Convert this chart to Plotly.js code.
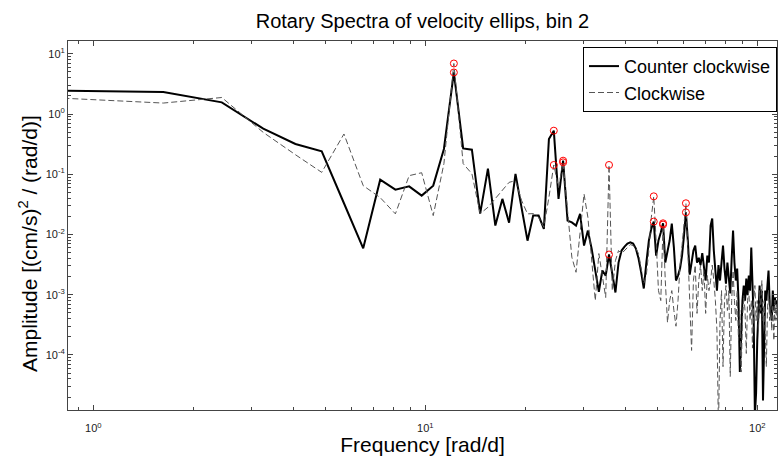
<!DOCTYPE html>
<html>
<head>
<meta charset="utf-8">
<script src="https://cdn.plot.ly/plotly-3.0.1.min.js"></script>
<style>
  html, body { margin: 0; padding: 0; background: #ffffff; }
  #chart { width: 779px; height: 456px; }
</style>
</head>
<body>
<div id="chart"></div>
<script>
// Frequencies [rad/d]
var freq = [0.8125, 1.625, 2.4375, 3.25, 4.0625, 4.875, 5.6875, 6.5, 7.3125, 8.125,
  8.9375, 9.75, 10.5625, 11.375, 12.1875, 13, 13.8125, 14.625, 15.4375, 16.25,
  17.0625, 17.875, 18.6875, 19.5, 20.3125, 21.125, 21.9375, 22.75, 23.5625, 24.375,
  25.1875, 26, 26.8125, 27.625, 28.4375, 29.25, 30.0625, 30.875, 31.6875, 32.5,
  33.3125, 34.125, 34.9375, 35.75, 36.5625, 37.375, 38.1875, 39, 39.8125, 40.625,
  41.4375, 42.25, 43.0625, 43.875, 44.6875, 45.5, 46.3125, 47.125, 47.9375, 48.75,
  49.5625, 50.375, 51.1875, 52, 52.8125, 53.625, 54.4375, 55.25, 56.0625, 56.875,
  57.6875, 58.5, 59.3125, 60.125, 60.9375, 61.75, 62.5625, 63.375, 64.1875, 65,
  65.8125, 66.625, 67.4375, 68.25, 69.0625, 69.875, 70.6875, 71.5, 72.3125, 73.125,
  73.9375, 74.75, 75.5625, 76.375, 77.1875, 78, 78.8125, 79.625, 80.4375, 81.25,
  82.0625, 82.875, 83.6875, 84.5, 85.3125, 86.125, 86.9375, 87.75, 88.5625, 89.375,
  90.1875, 91, 91.8125, 92.625, 93.4375, 94.25, 95.0625, 95.875, 96.6875, 97.5,
  98.3125, 99.125, 99.9375, 100.75, 101.5625, 102.375, 103.1875, 104, 104.8125, 105.625,
  106.4375, 107.25, 108.0625, 108.875, 109.6875, 110.5, 111.3125, 112.125, 112.9375, 113.75,
  114.5625, 115.375];

// Counter clockwise amplitude
var ccw = [2.43, 2.32, 1.56, 0.571, 0.318, 0.240, 0.033, 0.0059, 0.0813, 0.0556,
  0.063, 0.0442, 0.0647, 0.263, 4.9, 0.269, 0.256, 0.0222, 0.124, 0.01405,
  0.039, 0.01575, 0.101, 0.0283, 0.0079, 0.0206, 0.0206, 0.0124, 0.385, 0.529,
  0.039, 0.168, 0.017, 0.0159, 0.01405, 0.022, 0.00655, 0.0116, 0.00584, 0.00252,
  0.00112, 0.00252, 0.00208, 0.00465, 0.00208, 0.00109, 0.00342, 0.00541, 0.0063, 0.00707,
  0.00743, 0.00707, 0.00584, 0.00398, 0.00233, 0.00127, 0.00342, 0.00793, 0.01253, 0.01636,
  0.00447, 0.00793, 0.01076, 0.01534, 0.00342, 0.00541, 0.00793, 0.0152, 0.00607, 0.00172,
  0.00208, 0.00272, 0.00447, 0.0096, 0.0233, 0.00793, 0.00216, 0.00342, 0.00541, 0.00655,
  0.00342, 0.0041, 0.0031, 0.0049, 0.00272, 0.00172, 0.00447, 0.00342, 0.01405, 0.0184,
  0.00541, 0.00233, 0.00117, 0.0031, 0.00172, 0.00342, 0.00655, 0.00272, 0.00153, 0.00342,
  0.00208, 0.00105, 0.00398, 0.0116, 0.00342, 0.00172, 0.00272, 0.0008, 0.000052, 0.000255,
  0.0008, 0.00142, 0.0008, 0.00185, 0.00098, 0.00208, 0.00117, 0.00607, 0.00117, 0.000373,
  0.00001, 0.000023, 0.000174, 0.0008, 0.00142, 0.00049, 0.00117, 0.0000176, 0.000255, 0.00117,
  0.0008, 0.00172, 0.00252, 0.0008, 0.000547, 0.000373, 0.00117, 0.000547, 0.00089, 0.00068,
  0.0008, 0.000547];

// Clockwise amplitude
var cw = [1.83, 1.52, 1.88, 0.495, 0.211, 0.1075, 0.466, 0.0647, 0.041, 0.022,
  0.0948, 0.106, 0.0206, 0.15, 6.9, 0.15, 0.102, 0.0222, 0.0283, 0.039,
  0.0535, 0.0734, 0.0783, 0.0365, 0.022, 0.0222, 0.0193, 0.01316, 0.0414, 0.1426,
  0.0607, 0.1576, 0.0249, 0.00419, 0.00236, 0.0116, 0.0471, 0.0193, 0.00369, 0.0008,
  0.00482, 0.00193, 0.0009, 0.1426, 0.00117, 0.00369, 0.00541, 0.00482, 0.00541, 0.00607,
  0.0068, 0.00655, 0.00584, 0.00482, 0.00252, 0.00153, 0.00216, 0.00541, 0.0193, 0.043,
  0.00793, 0.00117, 0.0008, 0.0146, 0.00172, 0.000346, 0.0008, 0.00117, 0.000547, 0.0003,
  0.0008, 0.0031, 0.00655, 0.01405, 0.033, 0.00541, 0.0008, 0.000119, 0.00172, 0.0031,
  0.00049, 0.00172, 0.0031, 0.00117, 0.00252, 0.00049, 0.00208, 0.00117, 0.00172, 0.0031,
  0.00172, 0.0008, 0.000255, 0.0000056, 0.000373, 0.00117, 0.000064, 0.0008, 0.00142, 0.000547,
  0.00117, 0.000044, 0.0008, 0.00252, 0.0008, 0.000373, 0.00117, 0.000174, 0.000547, 0.000052,
  0.000373, 0.00098, 0.000547, 0.000106, 0.0008, 0.00117, 0.000373, 0.0008, 0.00013, 0.0008,
  0.00142, 0.000373, 0.0008, 0.000255, 0.00117, 0.000547, 0.00172, 0.000373, 0.0008, 0.000174,
  0.000064, 0.000547, 0.00117, 0.000373, 0.0008, 0.000255, 0.00068, 0.000174, 0.0008, 0.000373,
  0.00068, 0.000373];

// Indices (0-based) of the marked tidal peaks
var peakIdx = [14, 29, 31, 43, 59, 63, 74];

// Tick labels
var yTickVals = [1e-4, 1e-3, 1e-2, 1e-1, 1, 10];
var yTickText = ['10<sup>-4</sup>', '10<sup>-3</sup>', '10<sup>-2</sup>', '10<sup>-1</sup>', '10<sup>0</sup>', '10<sup>1</sup>'];
var xTickVals = [1, 10, 100];
var xTickText = ['10<sup>0</sup>', '10<sup>1</sup>', '10<sup>2</sup>'];

var FONT = 'Liberation Sans, Arial, Helvetica, sans-serif';
var AX = '#444444';

var traces = [
  {
    x: freq, y: ccw, type: 'scatter', mode: 'lines', name: 'Counter clockwise',
    line: {color: '#000000', width: 2}
  },
  {
    x: freq, y: cw, type: 'scatter', mode: 'lines', name: 'Clockwise',
    line: {color: '#555555', width: 1, dash: '6px,3px'}
  },
  {
    x: peakIdx.map(function (i) { return freq[i]; }),
    y: peakIdx.map(function (i) { return ccw[i]; }),
    type: 'scatter', mode: 'markers', showlegend: false,
    marker: {symbol: 'circle-open', size: 7, color: '#ff0000', line: {width: 1, color: '#ff0000'}}
  },
  {
    x: peakIdx.map(function (i) { return freq[i]; }),
    y: peakIdx.map(function (i) { return cw[i]; }),
    type: 'scatter', mode: 'markers', showlegend: false,
    marker: {symbol: 'circle-open', size: 7, color: '#ff0000', line: {width: 1, color: '#ff0000'}}
  }
];

var layout = {
  width: 779, height: 456,
  margin: {l: 68, r: 2, t: 41, b: 46, pad: 0},
  paper_bgcolor: '#ffffff', plot_bgcolor: '#ffffff',
  font: {family: FONT, color: '#000000'},
  title: {
    text: 'Rotary Spectra of velocity ellips, bin 2',
    font: {family: FONT, size: 20, color: '#000000'},
    xref: 'paper', x: 0.5, xanchor: 'center',
    yref: 'container', y: 0.954, yanchor: 'middle'
  },
  xaxis: {
    type: 'log',
    range: [Math.log10(0.839), Math.log10(114.6)],
    tickmode: 'array', tickvals: xTickVals, ticktext: xTickText,
    ticks: 'inside', ticklen: 5, tickwidth: 1, tickcolor: AX,
    ticklabelstandoff: 8,
    minor: {ticks: 'inside', ticklen: 3, tickwidth: 1, tickcolor: AX, dtick: 'D1', showgrid: false},
    showline: true, linecolor: AX, linewidth: 1, mirror: 'allticks',
    showgrid: false, zeroline: false,
    tickfont: {family: FONT, size: 11, color: '#222222'},
    title: {text: 'Frequency [rad/d]', font: {family: FONT, size: 21, color: '#000000'}, standoff: 9}
  },
  yaxis: {
    type: 'log',
    range: [Math.log10(1.22e-5), Math.log10(16.3)],
    tickmode: 'array', tickvals: yTickVals, ticktext: yTickText,
    ticks: 'inside', ticklen: 5, tickwidth: 1, tickcolor: AX,
    minor: {ticks: 'inside', ticklen: 3, tickwidth: 1, tickcolor: AX, dtick: 'D1', showgrid: false},
    showline: true, linecolor: AX, linewidth: 1, mirror: 'allticks',
    showgrid: false, zeroline: false,
    tickfont: {family: FONT, size: 11, color: '#222222'}
  },
  annotations: [{
    text: 'Amplitude [(cm/s)<sup>2</sup> / (rad/d)]',
    xref: 'paper', yref: 'paper', x: -0.0564, y: 0.45,
    xanchor: 'center', yanchor: 'middle', textangle: -90, showarrow: false,
    font: {family: FONT, size: 21, color: '#000000'}
  }],
  legend: {
    x: 1, xanchor: 'right', y: 0.984, yanchor: 'top',
    bgcolor: '#ffffff', bordercolor: '#000000', borderwidth: 1,
    font: {family: FONT, size: 18, color: '#000000'},
    tracegroupgap: 0
  },
  showlegend: true
};

Plotly.newPlot('chart', traces, layout, {staticPlot: true, displayModeBar: false});
</script>
</body>
</html>
